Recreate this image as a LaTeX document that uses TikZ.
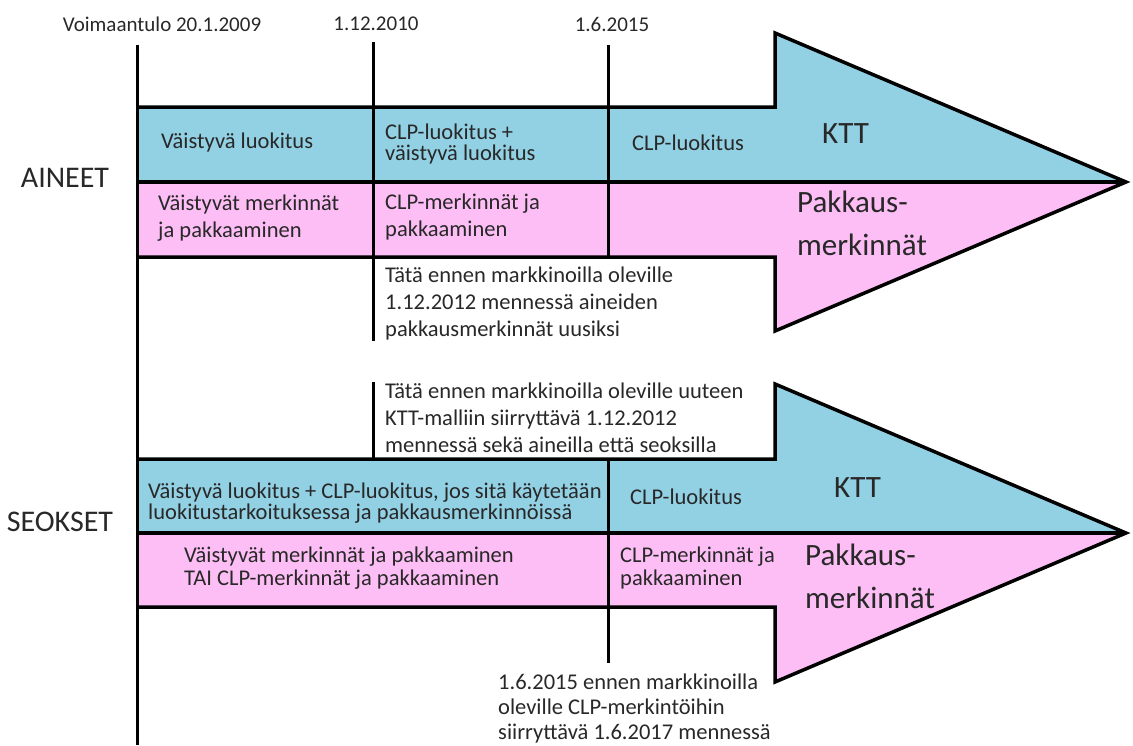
\documentclass[tikz,border=0pt]{standalone}
\usepackage{fontspec}
\setmainfont{Carlito}
\definecolor{bandblue}{RGB}{146,208,228}
\definecolor{bandpink}{RGB}{253,190,245}
\definecolor{ink}{RGB}{40,40,40}
\begin{document}
\begin{tikzpicture}[x=1pt,y=-1pt,
  txt/.style={anchor=west, inner sep=0pt, align=left, text=ink, font=\fontsize{22.5}{27}\selectfont},
  tighttxt/.style={txt, font=\fontsize{22.5}{21}\selectfont},
  midtxt/.style={txt, font=\fontsize{22.5}{23}\selectfont},
  bigtxt/.style={anchor=west, inner sep=0pt, align=left, text=ink, font=\fontsize{31}{43}\selectfont},
  labeltxt/.style={inner sep=0pt, text=ink, font=\fontsize{30}{36}\selectfont},
  datetxt/.style={inner sep=0pt, text=ink, font=\fontsize{21}{25}\selectfont},
  outline/.style={line width=3.5pt, line join=miter},
  timeline/.style={line width=3pt}]
\useasboundingbox (0,0) rectangle (1133,745);

% ---------- top arrow (AINEET)
\fill[bandblue] (137,107) -- (775,107) -- (775,33) -- (1126,182) -- (137,182) -- cycle;
\fill[bandpink] (137,182) -- (1126,182) -- (775,331) -- (775,257) -- (137,257) -- cycle;
\draw[outline] (137,107) -- (775,107) -- (775,33) -- (1126,182) -- (775,331) -- (775,257) -- (137,257);
\draw[outline] (137,182) -- (1126,182);

% ---------- bottom arrow (SEOKSET)
\fill[bandblue] (137,459) -- (775,459) -- (775,384) -- (1126,533) -- (137,533) -- cycle;
\fill[bandpink] (137,533) -- (1126,533) -- (775,682) -- (775,607) -- (137,607) -- cycle;
\draw[outline] (137,459) -- (775,459) -- (775,384) -- (1126,533) -- (775,682) -- (775,607) -- (137,607);
\draw[outline] (137,533) -- (1126,533);

% ---------- time lines
\coordinate (l0top) at (137,45);
\coordinate (l0bot) at (137,745);
\coordinate (l1top) at (373,42);
\coordinate (l1bot) at (373,341);
\coordinate (l1btop) at (373,382);
\coordinate (l1bbot) at (373,459);
\coordinate (l2top) at (608,45);
\coordinate (l2bot) at (608,257);
\coordinate (l2btop) at (608,459);
\coordinate (l2bbot) at (608,663);
\draw[timeline] (l0top) -- (l0bot);
\draw[timeline] (l1top) -- (l1bot);
\draw[timeline] (l1btop) -- (l1bbot);
\draw[timeline] (l2top) -- (l2bot);
\draw[timeline] (l2btop) -- (l2bbot);

% ---------- dates
\node[datetxt] (d0) at (162,24) {Voimaantulo 20.1.2009};
\node[datetxt] (d1) at (376,24) {1.12.2010};
\node[datetxt] (d2) at (612,24) {1.6.2015};

% ---------- row labels
\node[labeltxt] (aineet) at (65,178) {AINEET};
\node[labeltxt] (seokset) at (60,522) {SEOKSET};

% ---------- AINEET texts
\node[txt] (a1) at (161,142) {Väistyvä luokitus};
\node[tighttxt] (a2) at (385,144) {CLP-luokitus +\\väistyvä luokitus};
\node[txt] (a3) at (632,143) {CLP-luokitus};
\node[bigtxt] (a4) at (822,134) {KTT};
\node[txt] (a5) at (158,218) {Väistyvät merkinnät\\ja pakkaaminen};
\node[txt] (a6) at (385,217) {CLP-merkinnät ja\\pakkaaminen};
\node[bigtxt] (a7) at (797,223) {Pakkaus-\\merkinnät};
\node[txt] (a8) at (385,303) {Tätä ennen markkinoilla oleville\\1.12.2012 mennessä aineiden\\pakkausmerkinnät uusiksi};

% ---------- SEOKSET texts
\node[txt] (s0) at (385,418) {Tätä ennen markkinoilla oleville uuteen\\KTT-malliin siirryttävä 1.12.2012\\mennessä sekä aineilla että seoksilla};
\node[tighttxt] (s1) at (148,503) {Väistyvä luokitus + CLP-luokitus, jos sitä käytetään\\luokitustarkoituksessa ja pakkausmerkinnöissä};
\node[txt] (s2) at (630,497) {CLP-luokitus};
\node[bigtxt] (s3) at (834,488) {KTT};
\node[midtxt] (s4) at (184,568) {Väistyvät merkinnät ja pakkaaminen\\TAI CLP-merkinnät ja pakkaaminen};
\node[midtxt] (s5) at (620,568) {CLP-merkinnät ja\\pakkaaminen};
\node[bigtxt] (s6) at (805,576) {Pakkaus-\\merkinnät};
\node[txt, font=\fontsize{22.5}{25}\selectfont] (s7) at (498,708) {1.6.2015 ennen markkinoilla\\oleville CLP-merkintöihin\\siirryttävä 1.6.2017 mennessä};
\end{tikzpicture}
\end{document}
